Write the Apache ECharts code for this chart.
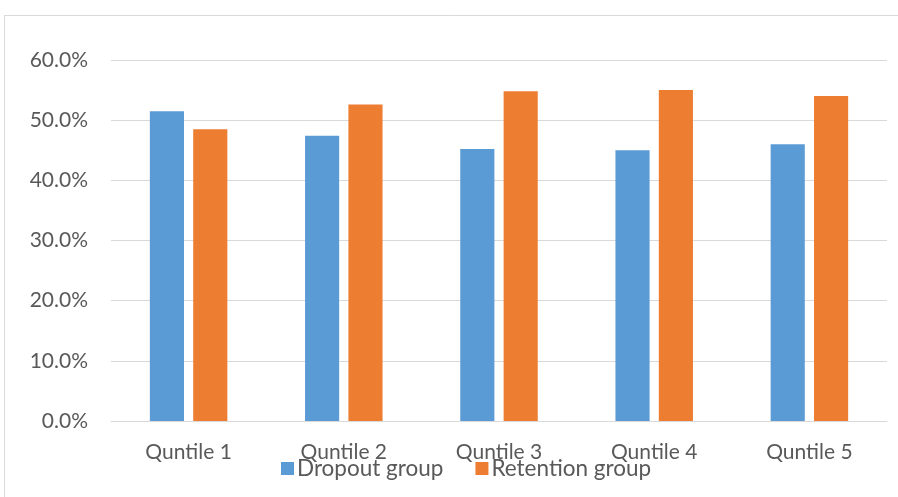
<!DOCTYPE html>
<html>
<head>
<meta charset="utf-8">
<script src="https://cdn.jsdelivr.net/npm/echarts@6/dist/echarts.min.js"></script>
<style>
  html, body { margin: 0; padding: 0; background: #fff; }
  #chart { width: 898px; height: 497px; }
</style>
</head>
<body>
<div id="chart"></div>
<script>
// Share of students in each income quintile, by group (percent)
const categories = ['Quntile 1', 'Quntile 2', 'Quntile 3', 'Quntile 4', 'Quntile 5'];
const dropoutGroup = [51.5, 47.4, 45.2, 45.0, 46.0];
const retentionGroup = [48.5, 52.6, 54.8, 55.0, 54.0];
const seriesNames = ['Dropout group', 'Retention group'];

const FONT = 'Lato';
const TEXT = '#595959';

const chart = echarts.init(document.getElementById('chart'), null, { renderer: 'canvas' });

chart.setOption({
  animation: false,
  backgroundColor: '#ffffff',
  textStyle: { fontFamily: FONT },
  graphic: [{
    type: 'rect',
    shape: { x: 4.5, y: 15.5, width: 920, height: 520 },
    style: { fill: 'none', stroke: '#d9d9d9', lineWidth: 1 },
    silent: true
  }],
  grid: { left: 111, right: 11, top: 60, bottom: 76, containLabel: false },
  legend: {
    data: seriesNames,
    left: 276,
    top: 452,
    icon: 'rect',
    itemWidth: 13,
    itemHeight: 13,
    itemGap: 32,
    textStyle: { color: TEXT, fontSize: 22.5, fontFamily: FONT, padding: [0, 0, 0, -2] }
  },
  xAxis: {
    type: 'category',
    data: categories,
    axisTick: { show: false },
    axisLine: { lineStyle: { color: '#d9d9d9', width: 1 } },
    axisLabel: { color: TEXT, fontSize: 21, fontFamily: FONT, margin: 21 }
  },
  yAxis: {
    type: 'value',
    min: 0,
    max: 60,
    interval: 10,
    axisLine: { show: false },
    axisTick: { show: false },
    splitLine: { lineStyle: { color: '#d9d9d9', width: 1 } },
    axisLabel: {
      color: TEXT, fontSize: 21, fontFamily: FONT, margin: 23,
      formatter: v => v.toFixed(1) + '%'
    }
  },
  series: [
    {
      name: seriesNames[0],
      type: 'bar',
      data: dropoutGroup,
      barWidth: '22%',
      barGap: '27%',
      itemStyle: { color: '#5B9BD5' }
    },
    {
      name: seriesNames[1],
      type: 'bar',
      data: retentionGroup,
      barWidth: '22%',
      barGap: '27%',
      itemStyle: { color: '#ED7D31' }
    }
  ]
});
</script>
</body>
</html>
